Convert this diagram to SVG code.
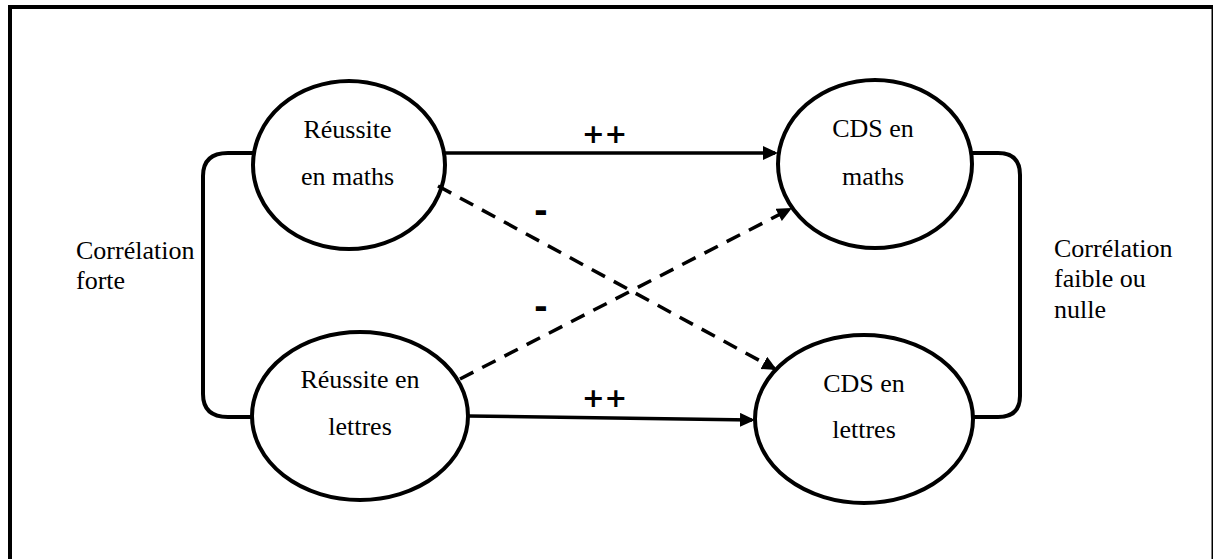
<svg xmlns="http://www.w3.org/2000/svg" width="1213" height="559" viewBox="0 0 1213 559">
<style>
.node{fill:#fff;stroke:#000;stroke-width:4}
.t{font-family:"Liberation Serif","Times New Roman",serif;font-size:26px;fill:#000}
.c{text-anchor:middle}
.ln{fill:none;stroke:#000;stroke-width:3.5}
.d{stroke-dasharray:15 10}
.br{fill:none;stroke:#000;stroke-width:4}
.sym{font-family:"Liberation Sans",Arial,sans-serif;font-weight:bold;fill:#000}
.pp{font-family:"DejaVu Sans",sans-serif;font-weight:bold;font-size:27px;fill:#000}
</style>
<defs>
<marker id="ah" markerUnits="userSpaceOnUse" markerWidth="16" markerHeight="15" refX="12" refY="7" orient="auto">
<path d="M0,0 L15,7 L0,14 z" fill="#000"/>
</marker>
</defs>
<rect x="10" y="7" width="1203.5" height="560" fill="#fff" stroke="#000" stroke-width="4"/>
<g id="n1">
<ellipse class="node" cx="349" cy="165" rx="96" ry="84"/>
<text class="t c" x="347.5" y="138">Réussite</text>
<text class="t c" x="347.5" y="185">en maths</text>
</g>
<g id="n2">
<ellipse class="node" cx="875" cy="164" rx="97" ry="84"/>
<text class="t c" x="873" y="137">CDS en</text>
<text class="t c" x="873" y="185">maths</text>
</g>
<g id="n3">
<ellipse class="node" cx="360" cy="416" rx="108" ry="84"/>
<text class="t c" x="360" y="388">Réussite en</text>
<text class="t c" x="360" y="435">lettres</text>
</g>
<g id="n4">
<ellipse class="node" cx="864" cy="419" rx="109" ry="84"/>
<text class="t c" x="864" y="392">CDS en</text>
<text class="t c" x="864" y="438">lettres</text>
</g>
<g id="connectors">
<path class="br" d="M254,153 L228,153 Q203,153 203,176 L203,394 Q203,417 228,417 L252,417"/>
<path class="br" d="M972,153 L998,153 Q1020,153 1020,175 L1020,396 Q1020,417 998,417 L973,417"/>
<path class="ln" d="M445,153 L775,153" marker-end="url(#ah)"/>
<path class="ln" d="M468,416 L752,420" marker-end="url(#ah)"/>
<path class="ln d" d="M438,186 L774.4,368.6" marker-end="url(#ah)"/>
<path class="ln d" d="M460,379 L789.3,209.4" marker-end="url(#ah)"/>
</g>
<g id="labels">
<text class="pp" x="582" y="142.5">++</text>
<text class="pp" x="582" y="407">++</text>
<text class="sym" x="541" y="223" font-size="40" text-anchor="middle">-</text>
<text class="sym" x="541" y="319" font-size="40" text-anchor="middle">-</text>
<text class="t" x="76" y="259">Corrélation</text>
<text class="t" x="76" y="289">forte</text>
<text class="t" x="1054" y="257">Corrélation</text>
<text class="t" x="1054" y="287">faible ou</text>
<text class="t" x="1054" y="318">nulle</text>
</g>
</svg>
